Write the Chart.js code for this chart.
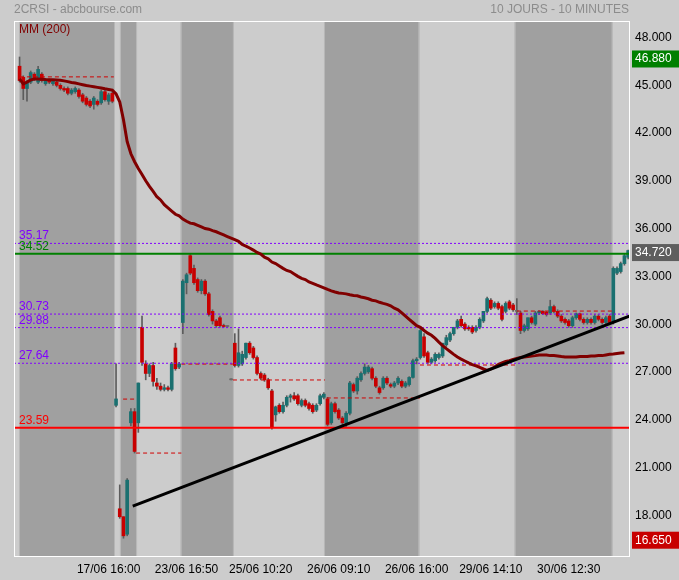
<!DOCTYPE html>
<html>
<head>
<meta charset="utf-8">
<script src="https://cdn.jsdelivr.net/npm/chart.js@4/dist/chart.umd.min.js"></script>
<style>
  html, body { margin: 0; padding: 0; background: #cccccc; }
  canvas { display: block; }
</style>
</head>
<body>
<canvas id="chart" width="679" height="580"></canvas>
<script>
// 10-minute candles, two per slot, slot 0 empty
const opens = [null,
  46.3, 45.6, 44.9, 45.3, 45.8, 45.3, 45.8, 45.2, 45.4, 45.2, 45.3, 45.1, 44.9, 44.9, 44.6, 44.7, 44.8, 44.5, 44.3, 44.1, 43.9, 44.1, 44.0, 44.7, 44.1, 44.6,
  25.0, 18.5, 18.0, 16.9, 23.9, 24.6,
  23.9, 29.9, 27.6, 27.0, 27.5, 26.4, 26.2, 26.0, 26.1, 26.0, 28.6, 27.4,
  30.2, 32.7, 34.4, 33.6, 32.9, 32.2, 32.8, 32.0, 30.9, 30.3, 30.5, 30.0, 29.95, 26.6,
  28.9, 27.5, 27.6, 28.0, 28.9, 28.6, 28.0, 27.0, 26.9, 26.6, 25.9, 24.4, 25.0, 24.6, 25.0, 25.5, 25.6, 25.6, 25.0, 25.3, 25.1, 25.0, 24.7, 25.1, 25.5,
  25.4, 23.9, 25.1, 24.7, 24.2, 23.9, 24.5, 26.3, 25.9, 26.6, 27.0, 27.1, 27.3, 26.7, 26.1, 26.1, 26.7, 26.3, 26.2, 26.4, 26.5, 26.2, 26.3, 26.75, 27.8,
  28.0, 29.3, 28.3, 27.7, 27.8, 28.0, 28.1, 28.8, 29.1, 29.5, 29.9, 30.4, 30.1, 29.9, 29.9, 29.7, 29.9, 30.3, 30.9, 31.6, 31.2, 31.4, 31.2, 30.9, 31.5, 31.3,
  30.9, 30.8, 29.7, 29.8, 30.5, 30.1, 30.8, 30.9, 30.85, 30.8, 31.2, 30.9, 30.6, 30.4, 30.3, 30.0, 30.5, 30.75, 30.4, 30.2, 30.4, 30.2, 30.6, 30.4, 30.2, 30.6,
  30.2, 33.3, 33.4, 33.9, 34.3];
const highs = [null,
  46.88, 45.7, 45.4, 46.0, 45.9, 46.3, 45.9, 45.5, 45.5, 45.4, 45.4, 45.2, 45.0, 45.0, 44.9, 45.0, 44.9, 44.6, 44.4, 44.2, 44.4, 44.2, 44.8, 44.8, 44.6, 44.7,
  27.6, 20.0, 18.0, 20.4, 24.8, 24.8,
  26.4, 30.6, 27.8, 27.6, 27.7, 26.7, 26.4, 26.3, 26.2, 27.7, 28.9, 27.7,
  32.9, 33.3, 34.52, 33.8, 33.0, 32.9, 32.9, 32.1, 31.0, 30.4, 30.6, 30.1, 30.0, 26.6,
  29.5, 29.8, 28.4, 28.9, 29.0, 28.7, 28.1, 27.1, 27.0, 26.7, 26.0, 24.95, 25.1, 25.2, 25.6, 25.7, 25.8, 25.7, 25.4, 25.4, 25.2, 25.1, 25.1, 25.7, 25.8,
  25.5, 25.2, 25.2, 24.8, 24.3, 24.6, 26.5, 26.4, 26.8, 27.1, 27.6, 27.5, 27.4, 26.8, 26.2, 26.8, 26.8, 26.4, 26.5, 26.8, 26.6, 26.5, 26.8, 27.9, 28.0,
  29.9, 29.5, 28.4, 28.0, 28.3, 28.3, 28.9, 29.4, 29.6, 29.9, 30.4, 30.6, 30.2, 30.0, 30.0, 30.0, 30.5, 30.9, 31.8, 31.7, 31.5, 31.5, 31.3, 31.5, 31.6, 31.4,
  31.7, 30.9, 30.1, 30.5, 30.6, 30.9, 30.95, 30.95, 30.9, 31.6, 31.3, 31.0, 30.7, 30.5, 30.4, 30.6, 30.8, 30.8, 30.5, 30.5, 30.5, 30.7, 30.7, 30.5, 30.6, 30.7,
  33.7, 33.7, 34.0, 34.5, 34.75];
const lows = [null,
  45.3, 44.2, 44.1, 45.2, 45.4, 45.2, 45.3, 45.1, 45.2, 45.1, 45.0, 44.8, 44.7, 44.5, 44.5, 44.6, 44.3, 44.0, 43.8, 43.7, 43.6, 43.8, 43.9, 44.1, 43.9, 44.0,
  24.9, 17.9, 16.65, 16.8, 23.7, 22.0,
  23.3, 27.5, 26.6, 26.8, 26.2, 26.0, 25.9, 25.9, 25.9, 25.9, 27.2, 27.3,
  29.5, 32.0, 33.2, 32.6, 32.1, 32.0, 31.9, 30.6, 30.1, 29.9, 29.9, 29.9, 29.9, 26.6,
  27.4, 27.4, 27.5, 27.9, 28.2, 27.9, 26.9, 26.6, 26.5, 26.0, 23.5, 24.0, 24.5, 24.5, 24.9, 25.2, 25.3, 25.0, 24.9, 24.9, 24.7, 24.5, 24.6, 25.0, 25.4,
  23.7, 23.8, 24.5, 24.1, 23.7, 23.6, 24.4, 25.8, 25.7, 26.5, 26.9, 27.0, 26.6, 26.1, 25.7, 26.0, 26.3, 26.1, 26.1, 26.3, 26.1, 26.1, 26.2, 26.7, 27.6,
  27.9, 28.0, 27.6, 27.6, 27.7, 27.9, 28.0, 28.7, 29.0, 29.4, 29.8, 29.9, 29.7, 29.7, 29.5, 29.6, 29.8, 30.2, 30.8, 31.0, 31.1, 31.0, 30.3, 30.8, 31.0, 30.9,
  30.7, 29.5, 29.6, 29.7, 30.1, 30.0, 30.7, 30.7, 30.6, 30.7, 30.8, 30.5, 30.2, 30.1, 29.9, 29.9, 30.4, 30.3, 30.1, 30.1, 30.1, 30.1, 30.3, 30.1, 30.1, 30.1,
  30.1, 33.2, 33.3, 33.8, 34.2];
const closes = [null,
  45.4, 44.9, 45.3, 45.9, 45.5, 46.1, 45.4, 45.4, 45.3, 45.35, 45.1, 44.9, 44.8, 44.6, 44.8, 44.9, 44.4, 44.1, 43.9, 43.8, 44.3, 43.9, 44.7, 44.2, 44.5, 44.1,
  25.4, 18.0, 16.8, 20.3, 24.6, 22.1,
  26.4, 27.7, 27.0, 27.5, 26.5, 26.2, 26.0, 26.1, 26.0, 27.6, 27.3, 27.6,
  32.8, 33.2, 33.3, 32.7, 32.2, 32.8, 32.0, 30.7, 30.3, 30.0, 30.0, 29.95, 29.95, 26.6,
  27.5, 28.3, 28.2, 28.9, 28.3, 28.0, 27.0, 26.7, 26.6, 26.1, 23.6, 24.9, 24.6, 25.0, 25.5, 25.6, 25.4, 25.1, 25.3, 25.0, 24.8, 24.6, 25.0, 25.6, 25.7,
  23.8, 25.1, 24.6, 24.2, 23.9, 24.5, 26.4, 25.9, 26.7, 27.0, 27.4, 27.4, 26.7, 26.2, 25.8, 26.7, 26.4, 26.2, 26.4, 26.7, 26.2, 26.4, 26.75, 27.8, 27.9,
  29.7, 28.1, 27.7, 27.9, 28.2, 28.2, 28.9, 29.25, 29.5, 29.9, 30.3, 30.0, 29.8, 29.8, 29.6, 29.9, 30.4, 30.9, 31.7, 31.1, 31.4, 31.1, 30.4, 31.4, 31.1, 31.0,
  30.9, 29.7, 30.0, 30.5, 30.2, 30.8, 30.9, 30.75, 30.7, 31.2, 30.9, 30.6, 30.3, 30.2, 30.0, 30.5, 30.75, 30.4, 30.2, 30.4, 30.2, 30.6, 30.4, 30.2, 30.5, 30.2,
  33.6, 33.6, 33.9, 34.4, 34.72];

// moving average MM (200), one value per slot
const ma200 = [null,
  45.5, 45.19, 45.3, 45.44, 45.5, 45.5, 45.48, 45.46, 45.45, 45.45, 45.44, 45.42, 45.38, 45.33, 45.28, 45.24, 45.19, 45.14, 45.09, 45.05, 45.01, 44.97, 44.93, 44.88, 44.84, 44.8,
  44.56, 44.06, 42.94, 41.56, 40.8, 40.3,
  39.87, 39.5, 39.1, 38.75, 38.44, 38.1, 37.9, 37.6, 37.4, 37.2, 37.0, 36.9,
  36.7, 36.56, 36.44, 36.4, 36.3, 36.2, 36.1, 36.06, 35.97, 35.9, 35.8, 35.7, 35.6, 35.5,
  35.4, 35.3, 35.1, 35.0, 34.88, 34.75, 34.6, 34.5, 34.3, 34.2, 34.0, 33.9, 33.75, 33.6, 33.47, 33.4, 33.25, 33.1, 32.97, 32.9, 32.75, 32.66, 32.56, 32.47, 32.38,
  32.28, 32.19, 32.12, 32.06, 32.03, 32.0, 31.94, 31.9, 31.88, 31.8, 31.75, 31.69, 31.6, 31.56, 31.47, 31.4, 31.34, 31.25, 31.1, 31.0, 30.8, 30.6, 30.4, 30.2, 30.0,
  29.9, 29.7, 29.53, 29.4, 29.2, 28.97, 28.75, 28.56, 28.38, 28.2, 28.03, 27.9, 27.78, 27.66, 27.56, 27.47, 27.38, 27.28, 27.19, 27.28, 27.4, 27.56, 27.66, 27.75, 27.8, 27.88,
  27.94, 28.0, 28.03, 28.06, 28.1, 28.12, 28.16, 28.16, 28.16, 28.12, 28.12, 28.1, 28.06, 28.03, 28.03, 28.03, 28.03, 28.06, 28.06, 28.06, 28.1, 28.1, 28.12, 28.12, 28.16, 28.2,
  28.22, 28.25, 28.28, 28.3, null];

// trading days drawn darker (slot units)
const darkDayStart = [1.1, 28.3, 44.6, 83.3, 134.6];
const darkDayEnd = [26.45, 32.4, 58.5, 108.55, 160.6];

// per-day reference lines (dashed red)
const dayLineValues = [45.63, 25.39, 22.0, 27.59, 26.59, 25.46, 27.53, 30.92];
const dayLineFrom = [1.1, 28.9, 32.4, 44.6, 58.5, 83.8, 108.9, 135.0];
const dayLineTo = [26.4, 32.4, 44.6, 58.5, 83.3, 108.9, 135.0, 160.9];

// horizontal levels
const levelValues = [35.17, 34.52, 30.73, 29.88, 27.64, 23.59];
const levelKinds = ['dash', 'green', 'dash', 'dash', 'dash', 'red'];

// trend line
const trendX = [31.5, 165.5];
const trendY = [18.67, 30.61];

const tickSlots = [25, 46, 66, 87, 108, 128, 149];
const tickLabels = ['17/06 16:00', '23/06 16:50', '25/06 10:20', '26/06 09:10', '26/06 16:00', '29/06 14:10', '30/06 12:30'];
const yTicks = [18, 21, 24, 27, 30, 33, 36, 39, 42, 45, 48];

const FONT = "'Liberation Sans', Arial, sans-serif";
const TEAL = '#1a7070';
const RED = '#c80000';
const GREY = '#6a6a6a';
const WICK = '#5c5c5c';
const MA_COLOR = '#800000';
const PURPLE = '#8000ff';

const levelStyle = {
  dash: { color: PURPLE, width: 1, dash: [2, 2] },
  green: { color: '#008000', width: 2, dash: [] },
  red: { color: '#ff0000', width: 2, dash: [] }
};

Chart.defaults.font.family = FONT;
Chart.defaults.font.size = 12;

const slots = [];
opens.forEach((o, i) => { if (o !== null) slots.push(i); });
const lastSlot = opens.length - 1;

const wickData = slots.map(i => ({ x: i, y: [lows[i], highs[i]] }));
const bodyData = slots.map(i => ({ x: i, y: [opens[i], closes[i]] }));
const bodyColors = slots.map(i => closes[i] > opens[i] ? TEAL : (closes[i] < opens[i] ? RED : GREY));

const hiValue = Math.max(...highs.filter(v => v !== null));
const loValue = Math.min(...lows.filter(v => v !== null));
const lastValue = closes[lastSlot];
const markValues = [hiValue, lastValue, loValue];
const markColors = ['#008000', '#5e5e5e', '#c80000'];

const datasets = [
  {
    type: 'line',
    data: trendX.map((x, k) => ({ x: x, y: trendY[k] })),
    borderColor: '#000000', borderWidth: 3, pointRadius: 0, order: 0
  },
  {
    type: 'line',
    data: ma200.map((v, i) => ({ x: i, y: v })),
    borderColor: MA_COLOR, borderWidth: 3, pointRadius: 0, order: 1
  }
];

levelValues.forEach((v, k) => {
  const st = levelStyle[levelKinds[k]];
  datasets.push({
    type: 'line',
    data: [{ x: -0.5, y: v }, { x: lastSlot + 0.5, y: v }],
    borderColor: st.color, borderWidth: st.width, borderDash: st.dash,
    pointRadius: 0, order: 2
  });
});

dayLineValues.forEach((v, k) => {
  datasets.push({
    type: 'line',
    data: [{ x: dayLineFrom[k], y: v }, { x: dayLineTo[k], y: v }],
    borderColor: '#d00000', borderWidth: 1, borderDash: [4, 3],
    pointRadius: 0, order: 3
  });
});

datasets.push({
  type: 'bar',
  data: bodyData,
  backgroundColor: bodyColors,
  barThickness: 3, grouped: false, minBarLength: 1, borderWidth: 0, order: 4
});
datasets.push({
  type: 'bar',
  data: wickData,
  backgroundColor: WICK,
  barThickness: 1, grouped: false, minBarLength: 1, borderWidth: 0, order: 5
});

const backdrop = {
  id: 'backdrop',
  beforeDatasetsDraw(chart) {
    const { ctx, chartArea: a, scales: { x } } = chart;
    ctx.save();
    ctx.fillStyle = '#cccccc';
    ctx.fillRect(a.left, a.top, a.width, a.height);
    darkDayStart.forEach((s, k) => {
      const x0 = x.getPixelForValue(s);
      const x1 = x.getPixelForValue(darkDayEnd[k]);
      ctx.fillStyle = '#a0a0a0';
      ctx.fillRect(x0, a.top, x1 - x0, a.height);
      ctx.fillStyle = '#b6b6b6';
      ctx.fillRect(x0 - 1, a.top, 1, a.height);
      ctx.fillRect(x1, a.top, 1, a.height);
    });
    ctx.restore();
  }
};

const overlay = {
  id: 'overlay',
  afterDraw(chart) {
    const { ctx, chartArea: a, scales: { y } } = chart;
    ctx.save();
    ctx.strokeStyle = '#ffffff';
    ctx.lineWidth = 1;
    ctx.strokeRect(a.left + 0.5, a.top + 0.5, a.width - 1, a.height - 1);

    ctx.font = '12px ' + FONT;
    ctx.textBaseline = 'alphabetic';
    ctx.fillStyle = '#8c8c8c';
    ctx.textAlign = 'left';
    ctx.fillText('2CRSI - abcbourse.com', a.left, 13);
    ctx.textAlign = 'right';
    ctx.fillText('10 JOURS - 10 MINUTES', a.right - 1, 13);

    ctx.textAlign = 'left';
    ctx.fillStyle = MA_COLOR;
    ctx.fillText('MM (200)', a.left + 5, 33);

    levelValues.forEach((v, k) => {
      ctx.fillStyle = levelStyle[levelKinds[k]].color;
      ctx.fillText(v.toFixed(2), a.left + 5, y.getPixelForValue(v) - 4);
    });

    ctx.textBaseline = 'middle';
    markValues.forEach((v, k) => {
      const py = y.getPixelForValue(v) + 2;
      ctx.fillStyle = markColors[k];
      ctx.fillRect(a.right + 2, py - 8.5, chart.width - a.right - 2, 17);
      ctx.fillStyle = '#ffffff';
      ctx.fillText(v.toFixed(3), a.right + 5, py);
    });
    ctx.restore();
  }
};

new Chart(document.getElementById('chart'), {
  type: 'bar',
  data: { datasets: datasets },
  options: {
    responsive: false,
    animation: false,
    devicePixelRatio: 1,
    events: [],
    layout: { padding: { top: 21, left: 14, right: 0, bottom: 0 } },
    plugins: { legend: { display: false }, tooltip: { enabled: false } },
    scales: {
      x: {
        type: 'linear', min: -0.5, max: lastSlot + 0.5, offset: false,
        grid: { display: false, drawTicks: false }, border: { display: false },
        afterBuildTicks: s => { s.ticks = tickSlots.map(v => ({ value: v })); },
        afterFit: s => { s.height = 23; },
        ticks: {
          autoSkip: false, maxRotation: 0, padding: 5, color: '#000000',
          callback: v => tickLabels[tickSlots.indexOf(v)]
        }
      },
      y: {
        position: 'right', min: 15.47, max: 49.14,
        grid: { display: false, drawTicks: false }, border: { display: false },
        afterBuildTicks: s => { s.ticks = yTicks.map(v => ({ value: v })); },
        afterFit: s => { s.width = 49; },
        ticks: { padding: 5, labelOffset: -1.5, color: '#000000', callback: v => v.toFixed(3) }
      }
    }
  },
  plugins: [backdrop, overlay]
});
</script>
</body>
</html>
